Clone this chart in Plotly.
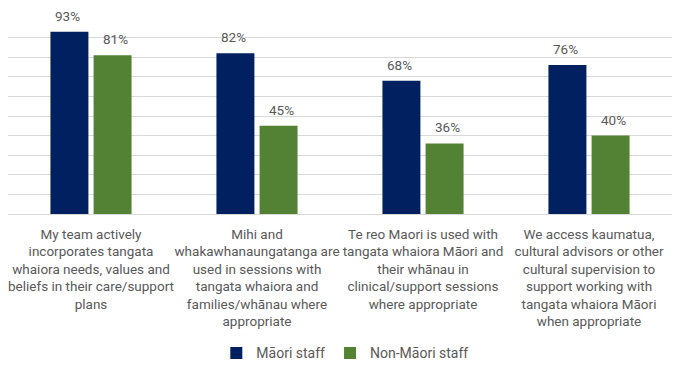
import plotly.graph_objects as go

categories = [
    "My team actively<br>incorporates tangata<br>whaiora needs, values and<br>beliefs in their care/support<br>plans",
    "Mihi and<br>whakawhanaungatanga are<br>used in sessions with<br>tangata whaiora and<br>families/whānau where<br>appropriate",
    "Te reo Maori is used with<br>tangata whaiora Māori and<br>their whānau in<br>clinical/support sessions<br>where appropriate",
    "We access kaumatua,<br>cultural advisors or other<br>cultural supervision to<br>support working with<br>tangata whaiora Māori<br>when appropriate",
]
maori_staff = [93, 82, 68, 76]
non_maori_staff = [81, 45, 36, 40]

FONT = "Roboto, sans-serif"
TXT = "#595959"

fig = go.Figure()
series = [("Māori staff", maori_staff, "#002060", -24),
          ("Non-Māori staff", non_maori_staff, "#548235", 24)]
for name, vals, color, dx in series:
    fig.add_trace(go.Bar(
        x=categories, y=vals, name=name,
        marker=dict(color=color, line=dict(width=0)),
    ))
    for c, v in zip(categories, vals):
        fig.add_annotation(x=c, y=v, text=f"{v}%", showarrow=False,
                           xshift=dx, yshift=16, yanchor="middle",
                           font=dict(family=FONT, size=13.5, color=TXT))

fig.update_layout(
    width=677, height=365,
    margin=dict(l=8, r=5, t=18, b=151),
    paper_bgcolor="white", plot_bgcolor="white",
    barmode="group", bargap=0.48, bargroupgap=0.12,
    font=dict(family=FONT, size=13.5, color=TXT),
    showlegend=True,
    legend=dict(orientation="h", x=0.508, xanchor="center", yref="container",
                y=0.032, yanchor="middle",
                font=dict(family=FONT, size=14, color=TXT),
                itemwidth=30, traceorder="normal"),
)
fig.update_xaxes(showline=False, ticks="", tickfont=dict(family=FONT, size=13.5, color=TXT),
                 tickangle=0, automargin=False, ticklabelstandoff=10)
fig.update_yaxes(range=[0, 100], dtick=10, showticklabels=False, showgrid=True,
                 gridcolor="#d9d9d9", gridwidth=1, zeroline=True, zerolinecolor="#d9d9d9",
                 zerolinewidth=1)

fig.write_html("out.html")
